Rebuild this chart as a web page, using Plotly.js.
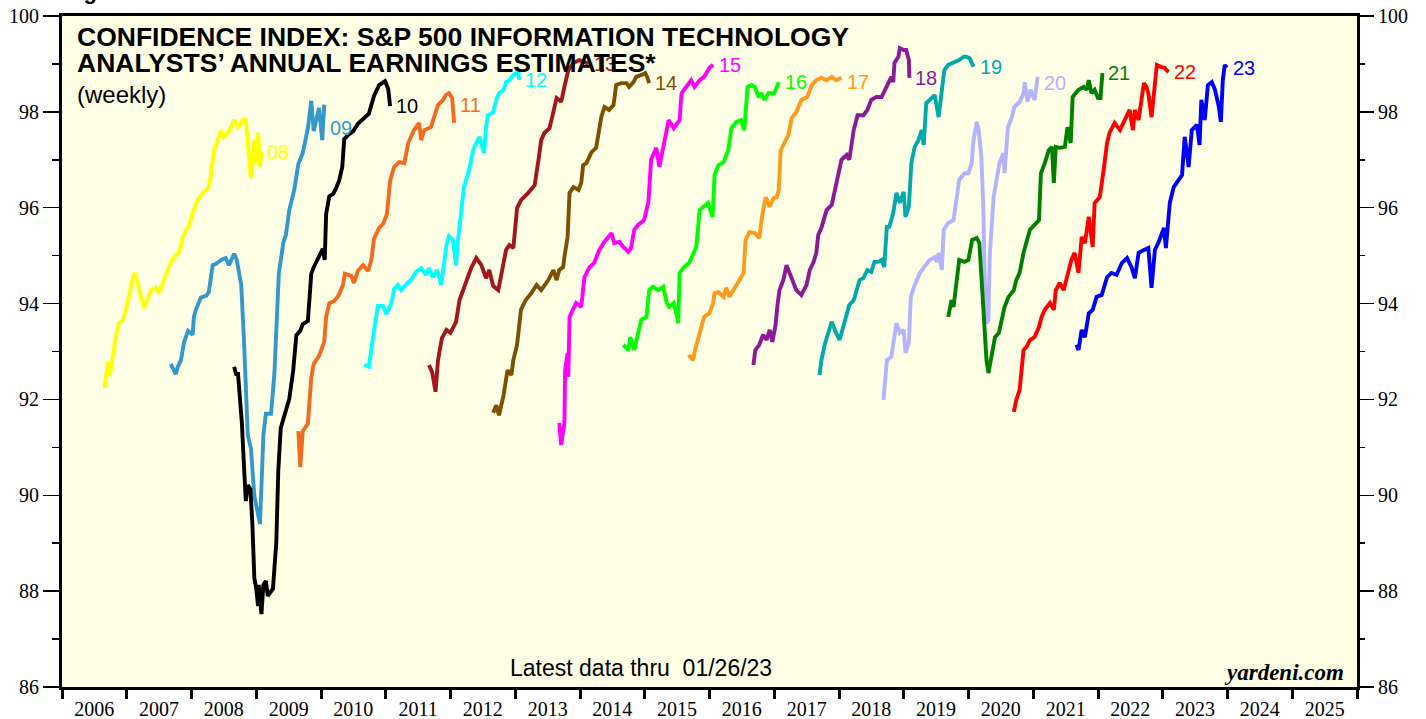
<!DOCTYPE html>
<html>
<head>
<meta charset="utf-8">
<script src="https://cdn.plot.ly/plotly-3.0.1.min.js"></script>
<style>html,body{margin:0;padding:0;background:#fff;}#chart{width:1426px;height:719px;}</style>
</head>
<body>
<div id="chart"></div>
<script>
// ---- DATA (x = fractional calendar year, y = confidence index) ----
const seriesNames = ['08','09','10','11','12','13','14','15','16','17','18','19','20','21','22','23'];

const s08x = [2006.66,2006.71,2006.74,2006.80,2006.83,2006.88,2006.94,2006.99,2007.04,2007.10,2007.13,2007.19,2007.25,2007.27,2007.33,2007.38,2007.45,2007.50,2007.56,2007.64,2007.68,2007.76,2007.81,2007.87,2007.92,2007.96,2008.02,2008.10,2008.18,2008.26,2008.30,2008.35,2008.41,2008.46,2008.50,2008.57,2008.61,2008.66,2008.72,2008.80,2008.84,2008.87,2008.92,2008.97,2009.00,2009.03,2009.06,2009.08];
const s08y = [92.24,92.78,92.49,93.03,93.28,93.59,93.66,93.87,94.22,94.55,94.64,94.28,94.01,93.91,94.14,94.28,94.33,94.22,94.43,94.70,94.85,95.01,95.06,95.39,95.54,95.60,95.89,96.16,96.31,96.41,96.64,97.20,97.41,97.62,97.48,97.58,97.68,97.83,97.68,97.83,97.83,97.41,96.62,97.41,96.93,97.56,96.85,97.16];

const s09x = [2007.68,2007.76,2007.79,2007.84,2007.89,2007.95,2008.02,2008.04,2008.07,2008.15,2008.23,2008.27,2008.33,2008.38,2008.46,2008.53,2008.58,2008.66,2008.70,2008.77,2008.81,2008.84,2008.87,2008.92,2008.97,2009.06,2009.11,2009.15,2009.23,2009.28,2009.35,2009.42,2009.46,2009.51,2009.59,2009.65,2009.72,2009.80,2009.85,2009.89,2009.93,2009.97,2010.02,2010.05];
const s09y = [92.74,92.53,92.68,92.82,93.20,93.43,93.35,93.72,93.87,94.13,94.16,94.24,94.80,94.83,94.91,94.95,94.80,95.04,94.91,94.39,93.27,92.38,91.26,90.97,89.99,89.40,91.26,91.70,91.70,92.53,94.62,95.28,95.43,95.95,96.39,96.91,97.14,97.66,98.23,97.60,97.85,98.08,97.41,98.15];

const s10x = [2008.66,2008.69,2008.72,2008.75,2008.78,2008.81,2008.84,2008.87,2008.91,2008.94,2008.97,2009.00,2009.03,2009.04,2009.08,2009.11,2009.15,2009.18,2009.26,2009.31,2009.34,2009.38,2009.43,2009.48,2009.51,2009.57,2009.62,2009.68,2009.72,2009.80,2009.85,2009.89,2009.97,2010.03,2010.06,2010.08,2010.13,2010.19,2010.23,2010.28,2010.33,2010.36,2010.42,2010.50,2010.57,2010.65,2010.74,2010.82,2010.90,2010.99,2011.04,2011.07];
const s10y = [92.68,92.53,92.53,92.01,91.49,90.65,89.88,90.21,90.13,89.40,88.27,88.05,87.69,88.13,87.52,88.13,88.21,87.90,88.05,89.03,90.51,91.40,91.63,91.88,92.01,92.60,93.34,93.43,93.57,93.64,94.62,94.76,94.99,95.14,94.91,95.87,96.24,96.29,96.39,96.56,96.85,97.43,97.52,97.60,97.75,97.85,97.96,98.33,98.56,98.64,98.48,98.12];

const s11x = [2009.65,2009.68,2009.72,2009.80,2009.85,2009.89,2009.97,2010.05,2010.08,2010.13,2010.20,2010.27,2010.34,2010.37,2010.47,2010.51,2010.57,2010.65,2010.73,2010.78,2010.82,2010.90,2010.96,2011.02,2011.07,2011.13,2011.21,2011.29,2011.35,2011.44,2011.52,2011.55,2011.60,2011.70,2011.75,2011.81,2011.89,2011.93,2011.98,2012.03,2012.06];
const s11y = [91.34,90.59,91.34,91.49,92.45,92.74,92.91,93.20,93.72,94.01,94.05,94.16,94.39,94.62,94.58,94.43,94.68,94.80,94.68,94.91,95.35,95.58,95.66,95.87,96.56,96.85,96.95,96.93,97.35,97.62,97.77,97.41,97.62,97.68,97.89,98.14,98.25,98.35,98.39,98.29,97.77];

const s12x = [2010.67,2010.74,2010.82,2010.88,2010.96,2011.01,2011.09,2011.13,2011.19,2011.24,2011.32,2011.39,2011.47,2011.55,2011.63,2011.67,2011.73,2011.80,2011.86,2011.94,2011.98,2012.04,2012.09,2012.12,2012.17,2012.21,2012.29,2012.35,2012.40,2012.45,2012.52,2012.55,2012.58,2012.66,2012.71,2012.75,2012.82,2012.86,2012.91,2012.97,2013.02,2013.05,2013.06];
const s12y = [92.72,92.68,93.43,93.95,93.95,93.78,94.01,94.30,94.39,94.28,94.41,94.49,94.66,94.74,94.60,94.74,94.55,94.70,94.39,95.22,95.41,95.33,94.80,95.33,95.95,96.43,96.79,97.20,97.35,97.48,97.14,97.68,97.93,97.99,98.25,98.39,98.46,98.62,98.66,98.77,98.81,98.87,98.66];

const s13x = [2011.67,2011.72,2011.77,2011.81,2011.87,2011.94,2012.00,2012.04,2012.09,2012.14,2012.20,2012.26,2012.32,2012.40,2012.48,2012.55,2012.60,2012.66,2012.74,2012.79,2012.86,2012.91,2012.97,2013.03,2013.09,2013.20,2013.30,2013.36,2013.40,2013.45,2013.53,2013.57,2013.64,2013.68,2013.71,2013.76,2013.82,2013.90,2013.99,2014.07,2014.13];
const s13y = [92.72,92.57,92.16,92.82,93.28,93.45,93.39,93.49,93.62,94.07,94.28,94.49,94.74,94.95,94.80,94.53,94.70,94.37,94.28,94.64,95.12,95.22,95.16,95.99,96.16,96.31,96.47,97.00,97.41,97.56,97.66,97.89,98.29,98.25,98.21,98.52,98.87,99.02,99.08,99.04,99.00];

const s14x = [2012.66,2012.71,2012.75,2012.82,2012.88,2012.94,2012.97,2013.03,2013.09,2013.16,2013.25,2013.33,2013.40,2013.51,2013.59,2013.64,2013.68,2013.74,2013.76,2013.81,2013.84,2013.90,2013.98,2014.02,2014.05,2014.10,2014.18,2014.25,2014.33,2014.38,2014.45,2014.52,2014.56,2014.64,2014.72,2014.76,2014.83,2014.87,2014.95,2015.01,2015.04,2015.07];
const s14y = [91.72,91.88,91.67,92.09,92.61,92.51,92.82,93.14,93.87,94.07,94.22,94.39,94.28,94.49,94.70,94.49,94.70,94.76,94.97,95.39,96.31,96.43,96.37,96.52,96.89,96.93,97.16,97.25,97.89,98.10,98.04,98.14,98.56,98.60,98.60,98.52,98.62,98.73,98.77,98.81,98.73,98.60];

const s15x = [2013.68,2013.71,2013.76,2013.77,2013.81,2013.82,2013.84,2013.90,2013.94,2014.02,2014.07,2014.15,2014.22,2014.30,2014.38,2014.49,2014.53,2014.61,2014.67,2014.75,2014.79,2014.84,2014.90,2014.99,2015.06,2015.10,2015.18,2015.23,2015.29,2015.34,2015.37,2015.45,2015.49,2015.54,2015.57,2015.64,2015.72,2015.77,2015.85,2015.92,2016.00,2016.06];
const s15y = [91.51,91.05,91.51,92.61,92.97,92.47,93.72,93.87,94.01,93.93,94.55,94.76,94.85,95.12,95.29,95.47,95.26,95.29,95.18,95.08,95.16,95.54,95.64,95.74,96.12,97.00,97.25,96.85,97.25,97.68,97.83,97.66,97.73,97.83,98.39,98.52,98.66,98.52,98.66,98.73,98.92,98.98];

const s16x = [2014.67,2014.75,2014.78,2014.84,2014.90,2014.95,2015.03,2015.07,2015.13,2015.21,2015.29,2015.34,2015.38,2015.45,2015.49,2015.52,2015.54,2015.61,2015.69,2015.75,2015.80,2015.85,2015.92,2015.98,2016.05,2016.08,2016.14,2016.22,2016.29,2016.34,2016.42,2016.49,2016.54,2016.59,2016.65,2016.70,2016.76,2016.80,2016.85,2016.91,2017.00,2017.07];
const s16y = [93.14,93.03,93.30,93.03,93.39,93.66,93.72,94.28,94.35,94.28,94.35,94.01,93.93,94.01,93.80,93.59,94.64,94.76,94.85,95.06,95.18,95.95,96.02,96.10,95.81,96.68,96.89,96.95,97.20,97.66,97.79,97.83,97.62,98.52,98.56,98.52,98.31,98.39,98.25,98.39,98.39,98.62];

const s17x = [2015.68,2015.75,2015.78,2015.83,2015.88,2015.92,2016.00,2016.06,2016.08,2016.14,2016.22,2016.26,2016.31,2016.37,2016.45,2016.53,2016.56,2016.62,2016.70,2016.77,2016.82,2016.87,2016.93,2016.99,2017.04,2017.07,2017.10,2017.16,2017.22,2017.27,2017.34,2017.42,2017.51,2017.58,2017.65,2017.73,2017.81,2017.89,2017.96,2018.04];
const s17y = [92.93,92.82,93.03,93.30,93.51,93.72,93.80,94.01,94.22,94.24,94.14,94.33,94.14,94.28,94.49,94.64,95.33,95.49,95.47,95.37,95.89,96.22,96.02,96.20,96.22,96.37,97.20,97.35,97.52,97.87,97.99,98.25,98.31,98.56,98.66,98.71,98.66,98.73,98.66,98.71];

const s18x = [2016.68,2016.71,2016.77,2016.83,2016.88,2016.93,2016.97,2017.02,2017.05,2017.08,2017.14,2017.19,2017.27,2017.34,2017.42,2017.50,2017.55,2017.61,2017.65,2017.68,2017.73,2017.81,2017.89,2017.96,2018.04,2018.12,2018.16,2018.23,2018.29,2018.38,2018.44,2018.50,2018.58,2018.66,2018.77,2018.81,2018.84,2018.86,2018.92,2018.94,2019.00,2019.04,2019.08,2019.09];
const s18y = [92.72,93.03,93.14,93.35,93.24,93.45,93.20,93.55,93.97,94.28,94.49,94.80,94.53,94.28,94.18,94.39,94.70,94.87,95.06,95.43,95.58,95.95,96.06,96.47,97.00,97.10,97.00,97.62,97.93,97.93,98.04,98.25,98.31,98.31,98.60,98.73,98.62,99.02,99.15,99.33,99.29,99.29,99.08,98.71];

const s19x = [2017.70,2017.73,2017.78,2017.82,2017.89,2017.95,2018.01,2018.09,2018.16,2018.23,2018.27,2018.32,2018.38,2018.44,2018.50,2018.55,2018.61,2018.66,2018.70,2018.74,2018.78,2018.84,2018.89,2018.94,2019.00,2019.03,2019.08,2019.12,2019.17,2019.23,2019.28,2019.31,2019.35,2019.43,2019.48,2019.54,2019.59,2019.63,2019.69,2019.77,2019.86,2019.93,2019.97,2020.02,2020.08];
const s19y = [92.51,92.82,93.14,93.35,93.62,93.41,93.24,93.62,93.97,94.07,94.28,94.49,94.53,94.70,94.66,94.87,94.87,94.91,94.76,95.60,95.60,95.89,96.31,96.10,96.33,95.81,96.02,96.93,97.27,97.41,97.62,97.31,98.18,98.29,98.35,97.89,98.52,98.87,98.98,99.02,99.08,99.15,99.15,99.12,98.94];

const s20x = [2018.69,2018.74,2018.81,2018.89,2018.94,2019.00,2019.03,2019.08,2019.11,2019.17,2019.25,2019.32,2019.40,2019.48,2019.52,2019.54,2019.59,2019.62,2019.69,2019.77,2019.82,2019.86,2019.94,2020.00,2020.05,2020.08,2020.13,2020.16,2020.20,2020.23,2020.25,2020.28,2020.31,2020.33,2020.39,2020.44,2020.48,2020.54,2020.56,2020.61,2020.67,2020.71,2020.79,2020.85,2020.87,2020.91,2020.96,2021.02,2021.05,2021.07];
const s20y = [91.99,92.82,92.89,93.59,93.39,93.45,92.97,93.18,94.14,94.39,94.64,94.76,94.91,94.97,94.87,95.06,94.70,95.54,95.68,95.74,96.16,96.58,96.72,96.72,96.93,97.41,97.79,97.62,97.06,96.02,94.64,93.59,93.66,94.97,96.22,96.58,96.93,97.14,96.72,97.68,97.89,98.10,98.21,98.39,98.62,98.21,98.46,98.25,98.52,98.73];

const s21x = [2019.69,2019.74,2019.77,2019.79,2019.86,2019.94,2020.00,2020.06,2020.13,2020.17,2020.20,2020.25,2020.28,2020.31,2020.36,2020.41,2020.47,2020.51,2020.56,2020.62,2020.70,2020.74,2020.79,2020.85,2020.90,2020.95,2021.02,2021.09,2021.12,2021.18,2021.24,2021.29,2021.32,2021.35,2021.41,2021.49,2021.53,2021.58,2021.61,2021.70,2021.78,2021.83,2021.86,2021.90,2021.95,2022.00,2022.04,2022.07];
const s21y = [93.72,94.07,93.93,94.14,94.91,94.87,94.91,95.33,95.37,95.26,94.64,93.59,92.82,92.55,92.89,93.30,93.39,93.66,93.93,94.14,94.28,94.49,94.64,95.06,95.33,95.54,95.64,95.74,96.72,96.93,97.20,97.27,96.52,97.27,97.25,97.27,97.68,97.35,98.31,98.46,98.52,98.46,98.66,98.39,98.46,98.29,98.29,98.81];

const s22x = [2020.70,2020.74,2020.79,2020.85,2020.90,2020.95,2021.02,2021.09,2021.13,2021.18,2021.26,2021.32,2021.35,2021.41,2021.47,2021.52,2021.59,2021.64,2021.70,2021.75,2021.80,2021.86,2021.92,2021.95,2022.03,2022.09,2022.14,2022.18,2022.26,2022.34,2022.42,2022.49,2022.54,2022.57,2022.63,2022.71,2022.75,2022.78,2022.83,2022.88,2022.91,2022.97,2023.03,2023.09];
const s22y = [91.74,91.99,92.20,93.03,93.10,93.24,93.30,93.51,93.72,93.87,94.01,93.87,94.28,94.43,94.28,94.55,94.91,95.06,94.64,95.39,95.26,95.81,95.18,96.10,96.22,96.79,97.35,97.56,97.77,97.62,97.83,98.04,97.62,98.04,97.83,98.60,98.52,98.39,97.89,98.66,98.98,98.94,98.92,98.83];

const s23x = [2021.67,2021.70,2021.75,2021.80,2021.86,2021.92,2021.98,2022.06,2022.14,2022.21,2022.29,2022.37,2022.45,2022.52,2022.57,2022.63,2022.71,2022.78,2022.83,2022.88,2022.94,2023.02,2023.05,2023.11,2023.17,2023.22,2023.30,2023.34,2023.40,2023.45,2023.53,2023.57,2023.60,2023.65,2023.70,2023.76,2023.81,2023.87,2023.90,2023.93,2023.96,2023.99];
const s23y = [93.14,93.03,93.45,93.30,93.80,93.87,94.14,94.18,94.55,94.64,94.60,94.85,94.95,94.76,94.53,95.06,95.12,95.16,94.33,95.12,95.29,95.58,95.16,96.10,96.43,96.52,96.68,97.48,96.85,97.62,97.73,97.31,98.25,97.83,98.56,98.62,98.46,98.10,97.79,98.66,98.98,98.92];

const yTickVals = [86,88,90,92,94,96,98,100];

// ---- STYLE ----
const seriesColors = ['#FFFF00','#3399CC','#000000','#F26B21','#00FFFF','#A3161E','#7F5000','#FF00FF','#00FF00','#FF9A1A','#8C1A96','#00AAAA','#B3B3FF','#008000','#FF0000','#0000FF'];
const labelYShift = [0,-23,0,18,0,0,0,0,0,-4,0,0,-6,0,0,0];

const allX = [s08x,s09x,s10x,s11x,s12x,s13x,s14x,s15x,s16x,s17x,s18x,s19x,s20x,s21x,s22x,s23x];
const allY = [s08y,s09y,s10y,s11y,s12y,s13y,s14y,s15y,s16y,s17y,s18y,s19y,s20y,s21y,s22y,s23y];

function toDate(fy){
  const y = Math.floor(fy);
  const a = Date.UTC(y,0,1), b = Date.UTC(y+1,0,1);
  return new Date(a + (fy - y)*(b - a)).toISOString().slice(0,10);
}

const traces = allX.map((xs,i)=>({
  type:'scatter', mode:'lines',
  x: xs.map(toDate), y: allY[i],
  line:{color:seriesColors[i], width:3.9},
  hoverinfo:'skip', showlegend:false
}));
traces.push({type:'scatter', mode:'lines', x:[], y:[], yaxis:'y2', showlegend:false, hoverinfo:'skip'});

const sans = 'Liberation Sans, Arial, sans-serif';
const serif = 'Liberation Serif, Times New Roman, serif';

const annotations = allX.map((xs,i)=>({
  xref:'x', yref:'y', x: toDate(xs[xs.length-1]), y: allY[i][allY[i].length-1],
  xanchor:'left', yanchor:'middle', xshift:4, yshift:labelYShift[i], showarrow:false,
  text: seriesNames[i], font:{family:sans, size:20, color:seriesColors[i]}
}));

const PH = 671, PW = 1295;
function py(p){ return 1 - (p-16)/PH; }
function px(p){ return (p-62)/PW; }

annotations.push(
  {xref:'paper', yref:'paper', x:px(75), y:py(37), xanchor:'left', yanchor:'middle', showarrow:false,
   text:'<b>CONFIDENCE INDEX: S&P 500 INFORMATION TECHNOLOGY</b>', font:{family:sans, size:26.5, color:'#000'}},
  {xref:'paper', yref:'paper', x:px(75), y:py(63), xanchor:'left', yanchor:'middle', showarrow:false,
   text:'<b>ANALYSTS’ ANNUAL EARNINGS ESTIMATES*</b>', font:{family:sans, size:26.5, color:'#000'}},
  {xref:'paper', yref:'paper', x:px(75), y:py(95), xanchor:'left', yanchor:'middle', showarrow:false,
   text:'(weekly)', font:{family:sans, size:24, color:'#000'}},
  {xref:'paper', yref:'paper', x:px(641), y:py(668), xanchor:'center', yanchor:'middle', showarrow:false,
   text:'Latest data thru  01/26/23', font:{family:sans, size:23, color:'#000'}},
  {xref:'paper', yref:'paper', x:px(1346), y:py(672), xanchor:'right', yanchor:'middle', showarrow:false,
   text:'<b><i>yardeni.com</i></b>', font:{family:serif, size:23, color:'#000'}},
  {xref:'paper', yref:'paper', x:px(62), y:py(6), xanchor:'left', yanchor:'bottom', showarrow:false,
   text:'<b>Figure 5.</b>', font:{family:sans, size:22, color:'#000'}}
);

const yCommon = {
  range:[86,100], tickvals:yTickVals, ticks:'outside', ticklen:16, tickwidth:1.5, tickcolor:'#000',
  minor:{dtick:1, tick0:86, ticks:'outside', ticklen:7, tickwidth:1.5, tickcolor:'#000', showgrid:false},
  showgrid:false, zeroline:false, fixedrange:true,
  tickfont:{family:serif, size:20, color:'#000'}
};

const layout = {
  width:1426, height:719,
  margin:{l:62, r:69, t:16, b:32, pad:0},
  paper_bgcolor:'#FFFFFF', plot_bgcolor:'#FFFFE6',
  showlegend:false,
  xaxis:{
    type:'date', range:['2006-01-01','2026-01-01'], tick0:'2006-01-01', dtick:'M12',
    tickformat:'%Y', ticklabelmode:'period', ticks:'outside', ticklen:9, tickwidth:3, tickcolor:'#000',
    ticklabelstandoff:-7,
    showline:true, linewidth:3, linecolor:'#000', mirror:true, showgrid:false, zeroline:false,
    tickfont:{family:serif, size:20, color:'#000'}, fixedrange:true
  },
  yaxis: Object.assign({}, yCommon, {side:'left', showline:true, linewidth:3, linecolor:'#000', mirror:true}),
  yaxis2: Object.assign({}, yCommon, {side:'right', overlaying:'y', showline:false}),
  annotations: annotations
};

Plotly.newPlot('chart', traces, layout, {displayModeBar:false, staticPlot:true});
</script>
</body>
</html>
